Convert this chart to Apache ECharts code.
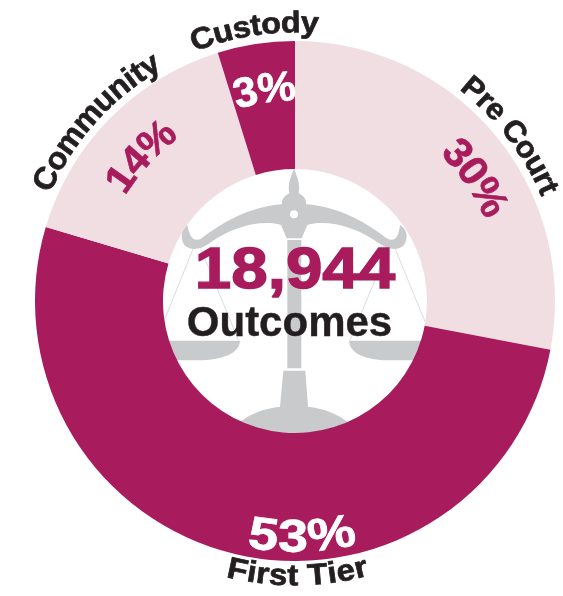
<!DOCTYPE html>
<html><head><meta charset="utf-8">
<style>html,body{margin:0;padding:0;background:#fff}#c{width:563px;height:596px}</style>
<script src="https://cdn.jsdelivr.net/npm/echarts@6/dist/echarts.min.js"></script>
</head><body><div id="c"></div>
<script>
const categories = ['Pre Court', 'First Tier', 'Community', 'Custody'];
const arcShares = [28, 51.6, 15.6, 4.8];
const percentLabels = ['30%', '53%', '14%', '3%'];
const totalText = '18,944';
const totalCaption = 'Outcomes';
const sliceColors = ['#f1dee3', '#a81b5c', '#f1dee3', '#a81b5c'];
const percentColors = ['#a81b5c', '#ffffff', '#a81b5c', '#ffffff'];

const CX = 295, CY = 301;
const INK = '#231f20', GREY = '#c9cacc';
const FONT = '"Liberation Sans", Arial, sans-serif';

const nameLayout = [
  {deg: 52.5, r: 276, size: 30, sx: 1.03, inward: false},
  {deg: 179.5, r: 276, size: 30, sx: 1.1, inward: true},
  {deg: -48, r: 276, size: 31, sx: 1.03, inward: false},
  {deg: -8.5, r: 277, size: 30, sx: 1.08, inward: false}
];
const pctLayout = [
  {deg: 55.7, r: 218, size: 41, sx: 1.03},
  {deg: 178.3, r: 238, size: 46, sx: 1.17, inward: true},
  {deg: -46.8, r: 211, size: 40, sx: 1.04},
  {deg: -8.2, r: 212, size: 42, sx: 1.03}
];

const mctx = document.createElement('canvas').getContext('2d');
function arcText(str, cfg, fill) {
  const font = 'bold ' + cfg.size + 'px ' + FONT;
  mctx.font = font;
  const widths = [...str].map(ch => mctx.measureText(ch).width * cfg.sx);
  const total = widths.reduce((a, b) => a + b, 0);
  const dir = cfg.inward ? -1 : 1;
  let run = -total / 2;
  return [...str].map((ch, i) => {
    const mid = run + widths[i] / 2;
    run += widths[i];
    const th = cfg.deg * Math.PI / 180 + dir * mid / cfg.r;
    return {
      type: 'text', z: 20,
      x: CX + cfg.r * Math.sin(th),
      y: CY - cfg.r * Math.cos(th),
      rotation: cfg.inward ? Math.PI - th : -th,
      scaleX: cfg.sx,
      style: {text: ch, font, fill, stroke: fill, lineWidth: 0.7, align: 'center', verticalAlign: 'middle'}
    };
  });
}

// Balance-scale icon, drawn in a local 3x coordinate frame
const scalePath =
  'M432 25 C440 50 452 70 446 100 C465 110 470 122 468 133 C570 140 650 190 712 236 C730 244 745 240 750 195 ' +
  'C768 205 778 230 762 255 C745 272 715 270 690 252 C620 200 530 178 472 195 L455 235 L410 235 L393 195 ' +
  'C335 178 245 200 175 252 C150 270 120 272 103 255 C87 230 97 205 112 195 C120 240 135 244 153 236 ' +
  'C215 190 295 140 396 133 C394 122 400 110 418 100 C412 70 424 50 432 25 Z ' +
  'M412 240 L454 240 L454 625 L412 625 Z ' +
  'M400 632 L466 632 L474 740 C520 745 560 760 600 790 L500 840 L360 840 L265 790 C300 760 345 745 390 740 Z ' +
  'M30 542 L270 542 C268 590 190 602 130 601 L30 601 Z ' +
  'M597 542 L840 542 L840 601 L730 601 C670 602 600 590 597 542 Z';
const strings = [[130, 265, 45, 475], [152, 265, 265, 540], [735, 265, 825, 485], [715, 265, 600, 540]];
echarts.graphic.registerShape('scaleIcon', echarts.graphic.extendPath(scalePath, {}));

const graphics = [
  {type: 'group', x: 150, y: 160, scaleX: 1/3, scaleY: 1/3, children: [
    {type: 'scaleIcon', z: 1, style: {fill: GREY}},
    {type: 'circle', z: 2, shape: {cx: 432, cy: 163, r: 12}, style: {fill: '#fff'}},
    ...strings.map(s => ({type: 'line', z: 1, shape: {x1: s[0], y1: s[1], x2: s[2], y2: s[3]},
      style: {stroke: '#d2d3d5', lineWidth: 2.4}}))
  ]},
  {type: 'text', z: 20, x: 295, y: 272, scaleX: 1.13,
    style: {text: totalText, font: 'bold 58px ' + FONT, fill: '#a81b5c', align: 'center', verticalAlign: 'middle',
      stroke: '#a81b5c', lineWidth: 1.4}},
  {type: 'text', z: 20, x: 289.5, y: 324,
    style: {text: totalCaption, font: 'bold 42px ' + FONT, fill: INK, align: 'center', verticalAlign: 'middle',
      stroke: INK, lineWidth: 0.4}},
];
categories.forEach((n, i) => {
  graphics.push(...arcText(n, nameLayout[i], INK));
  graphics.push(...arcText(percentLabels[i], pctLayout[i], percentColors[i]));
});

const chart = echarts.init(document.getElementById('c'));
chart.setOption({
  animation: false,
  backgroundColor: '#fff',
  graphic: {elements: graphics},
  series: [{
    type: 'pie', z: 5, center: [CX, CY], radius: [132, 260], startAngle: 90, clockwise: true,
    silent: true, label: {show: false}, labelLine: {show: false},
    data: categories.map((n, i) => ({name: n, value: arcShares[i], itemStyle: {color: sliceColors[i]}}))
  }]
});
</script></body></html>
